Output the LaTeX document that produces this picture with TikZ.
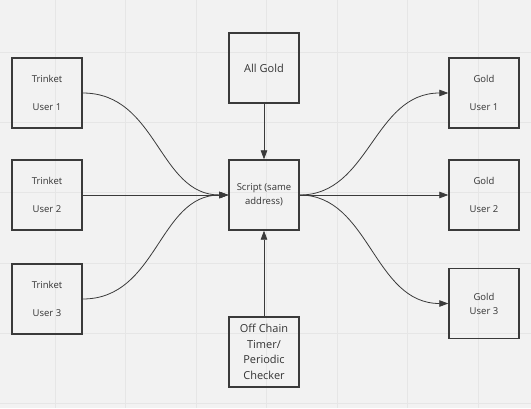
\documentclass[tikz,border=0pt]{standalone}
\usepackage{fontspec}
\setmainfont{Open Sans}
\usetikzlibrary{arrows.meta}
\definecolor{bg}{HTML}{F2F2F2}
\definecolor{gridc}{HTML}{E6E6E6}
\definecolor{ink}{HTML}{3A3A3A}
\definecolor{txt}{HTML}{333333}
\tikzset{
  box/.style={draw=ink, line width=1.4pt, minimum width=70pt, minimum height=70pt, inner sep=0pt, align=center, text=txt},
  small/.style={font=\fontsize{9.5}{14}\selectfont},
  big/.style={font=\fontsize{11}{15.5}\selectfont},
  conn/.style={draw=ink, line width=0.8pt, -{Triangle[length=9pt,width=6.5pt]}},
}
\begin{document}
\begin{tikzpicture}[x=1pt,y=-1pt]
\useasboundingbox (0,0) rectangle (531,408);
\fill[bg] (0,0) rectangle (531,408);
\foreach \gx in {55,125.5,196,266.5,337,407.5,478}
  \draw[gridc, line width=0.6pt] (\gx,0) -- (\gx,408);
\foreach \gy in {52,122,192,263,333,403}
  \draw[gridc, line width=0.6pt] (0,\gy) -- (531,\gy);

\node[box, small] (t1) at (47,93) {Trinket\\[14pt]User 1};
\node[box, small] (t2) at (47,195) {Trinket\\[14pt]User 2};
\node[box, small] (t3) at (47,299) {Trinket\\[14pt]User 3};
\node[box, big] (ag) at (264,68) {All Gold};
\node[box, small] (sc) at (264,195) {Script (same\\address)};
\node[box, big] (oc) at (264,352) {Off Chain\\Timer/\\Periodic\\Checker};
\node[box, small] (g1) at (484,93) {Gold\\[14pt]User 1};
\node[box, small] (g2) at (484,195) {Gold\\[14pt]User 2};
\node[box, small] (g3) at (484,303.5) {Gold\\User 3};

\draw[conn] (ag.south) -- (sc.north);
\draw[conn] (oc.north) -- (sc.south);
\draw[conn] (t1.east) .. controls +(75,0) and +(-70,0) .. (sc.west);
\draw[conn] (t2.east) -- (sc.west);
\draw[conn] (t3.east) .. controls +(75,0) and +(-70,0) .. (sc.west);
\draw[conn] (sc.east) .. controls +(70,0) and +(-75,0) .. (g1.west);
\draw[conn] (sc.east) -- (g2.west);
\draw[conn] (sc.east) .. controls +(70,0) and +(-75,0) .. (g3.west);
\end{tikzpicture}
\end{document}
